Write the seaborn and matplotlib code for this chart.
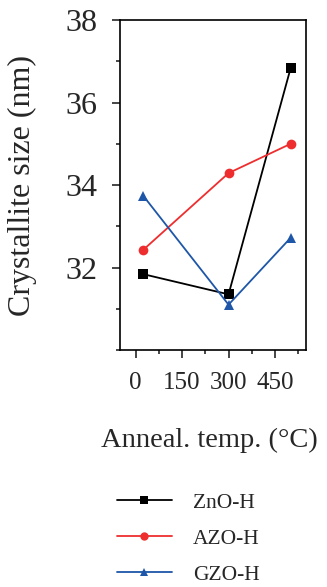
import matplotlib
matplotlib.use("Agg")
import matplotlib.pyplot as plt
from matplotlib.ticker import MultipleLocator
import seaborn as sns
import pandas as pd

temps = [25, 300, 500]
zno_h = [31.84, 31.35, 36.83]
azo_h = [32.43, 34.29, 35.0]
gzo_h = [33.74, 31.1, 32.72]
series = ["ZnO-H", "AZO-H", "GZO-H"]
colors = ["#000000", "#EE2E2E", "#1E56A8"]
markers = ["s", "o", "^"]
xticks = [0, 150, 300, 450]
yticks = [32, 34, 36, 38]

sns.set_theme(style="ticks")
plt.rcParams["font.family"] = ["Liberation Serif", "DejaVu Serif"]

df = pd.DataFrame({
    "temp": temps * 3,
    "size": zno_h + azo_h + gzo_h,
    "sample": [s for s in series for _ in temps],
})

fig = plt.figure(figsize=(3.27, 5.87), dpi=100)
ax = fig.add_axes([0.367, 0.4037, 0.569, 0.562])
sns.lineplot(data=df, x="temp", y="size", hue="sample", style="sample",
             hue_order=series, style_order=series,
             palette=colors, markers=markers, dashes=False,
             markersize=7, linewidth=1.3, markeredgewidth=0,
             ax=ax, legend=True)

ax.set_xlim(-50, 550)
ax.set_ylim(30, 38)
ax.set_xticks(xticks)
ax.set_yticks(yticks)
ax.xaxis.set_minor_locator(MultipleLocator(75))
ax.yaxis.set_minor_locator(MultipleLocator(1))
ax.tick_params(axis="x", which="major", direction="out", length=6, width=1.2, labelsize=18, pad=10)
ax.tick_params(axis="x", which="minor", direction="out", length=3, width=1.2)
ax.tick_params(axis="y", which="major", direction="out", length=6, width=1.2, labelsize=23, pad=10)
ax.tick_params(axis="y", which="minor", direction="out", length=3, width=1.2)
for s in ax.spines.values():
    s.set_visible(True)
    s.set_linewidth(1.2)
    s.set_color("black")
ax.set_xlabel("Anneal. temp. (°C)", fontsize=20.5, labelpad=24)
ax.set_ylabel("Crystallite size (nm)", fontsize=23, labelpad=21)
ax.xaxis.set_label_coords(0.478, -0.235)

h, l = ax.get_legend_handles_labels()
for hd in h:
    hd.set_markersize(6)
ax.get_legend().remove()
fig.legend(h, l, loc="upper left", bbox_to_anchor=(0.33, 0.175), frameon=False,
           fontsize=15.5, handlelength=2.56, handletextpad=1.0, labelspacing=0.74,
           borderaxespad=0)

fig.savefig("out.png", dpi=100)
